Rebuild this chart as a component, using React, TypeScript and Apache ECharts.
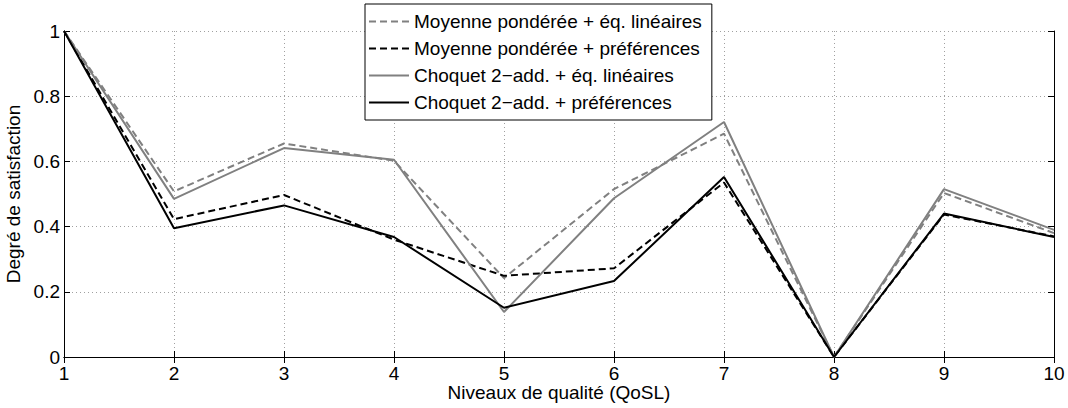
import React, { useEffect, useRef } from "react";
import * as echarts from "echarts";

const levels = [1, 2, 3, 4, 5, 6, 7, 8, 9, 10];
const mpLin = [1, 0.508, 0.655, 0.602, 0.242, 0.515, 0.685, 0, 0.503, 0.38];
const mpPref = [1, 0.423, 0.497, 0.36, 0.249, 0.272, 0.535, 0, 0.437, 0.37];
const chLin = [1, 0.485, 0.641, 0.605, 0.138, 0.487, 0.721, 0, 0.515, 0.39];
const chPref = [1, 0.395, 0.465, 0.368, 0.151, 0.233, 0.552, 0, 0.44, 0.368];
const seriesNames = [
  "Moyenne pondérée + éq. linéaires",
  "Moyenne pondérée + préférences",
  "Choquet 2\u2212add. + éq. linéaires",
  "Choquet 2\u2212add. + préférences",
];
const yTicks = [0, 0.2, 0.4, 0.6, 0.8, 1];

const FONT = "Liberation Sans, Arial, sans-serif";
const FS = 19;

export default function App() {
  const ref = useRef<HTMLDivElement>(null);
  useEffect(() => {
    if (!ref.current) return;
    const chart = echarts.init(ref.current, undefined, { renderer: "svg" });
    const pairs = (vals: number[]) => levels.map((x, i) => [x, vals[i]]);
    const gray = "#808080";
    const dash = [7, 4];
    const mk = (name: string, vals: number[], color: string, type: any) => ({
      name,
      type: "line",
      data: pairs(vals),
      symbol: "none",
      lineStyle: { color, width: 2, type },
      itemStyle: { color },
      z: 3,
    });
    const commonAxisLine = { show: true, lineStyle: { color: "#000", width: 1 } };
    const tick = { show: true, inside: true, length: 6, lineStyle: { color: "#000" } };
    const split = { show: true, lineStyle: { color: "#a0a0a0", type: [1, 3], width: 1 } };
    chart.setOption({
      animation: false,
      backgroundColor: "#fff",
      textStyle: { fontFamily: FONT },
      grid: {
        left: 64,
        right: 14,
        top: 31,
        bottom: 51,
        containLabel: false,
        outerBoundsMode: "none",
      },
      xAxis: [
        {
          type: "value",
          min: 1,
          max: 10,
          interval: 1,
          name: "Niveaux de qualité (QoSL)",
          nameLocation: "middle",
          nameGap: 26,
          nameMoveOverlap: false,
          nameTextStyle: { fontSize: FS, color: "#000", fontFamily: FONT },
          axisLine: commonAxisLine,
          axisTick: tick,
          axisLabel: { fontSize: FS, color: "#000", margin: 7, fontFamily: FONT },
          splitLine: split,
        },
        {
          type: "value",
          position: "top",
          min: 1,
          max: 10,
          interval: 1,
          axisLine: commonAxisLine,
          axisTick: tick,
          axisLabel: { show: false },
          splitLine: { show: false },
        },
      ],
      yAxis: [
        {
          type: "value",
          min: 0,
          max: 1,
          interval: 0.2,
          name: "Degré de satisfaction",
          nameLocation: "middle",
          nameGap: 41,
          nameMoveOverlap: false,
          nameTextStyle: { fontSize: FS, color: "#000", fontFamily: FONT },
          axisLine: commonAxisLine,
          axisTick: tick,
          axisLabel: {
            fontSize: FS,
            color: "#000",
            margin: 4,
            padding: [6, 0, 0, 0],
            fontFamily: FONT,
            formatter: (v: number) => {
              const t = yTicks.find((k) => Math.abs(k - v) < 1e-9);
              return t === undefined ? "" : String(t);
            },
          },
          splitLine: split,
        },
        {
          type: "value",
          position: "right",
          min: 0,
          max: 1,
          interval: 0.2,
          axisLine: commonAxisLine,
          axisTick: tick,
          axisLabel: { show: false },
          splitLine: { show: false },
        },
      ],
      legend: {
        orient: "vertical",
        left: 365,
        top: 4,
        padding: [8, 10, 8, 3],
        itemGap: 8,
        itemWidth: 40,
        itemHeight: 14,
        itemTextGap: 2,
        backgroundColor: "#fff",
        borderColor: "#000",
        borderWidth: 1,
        borderRadius: 0,
        itemStyle: { opacity: 0 },
        textStyle: { fontSize: FS, color: "#000", fontFamily: FONT, lineHeight: 19 },
        data: seriesNames,
      },
      series: [
        mk(seriesNames[0], mpLin, gray, dash),
        mk(seriesNames[1], mpPref, "#000", dash),
        mk(seriesNames[2], chLin, gray, "solid"),
        mk(seriesNames[3], chPref, "#000", "solid"),
      ],
    });
    return () => chart.dispose();
  }, []);
  return (
    <div
      ref={ref}
      style={{ position: "absolute", left: 0, top: 0, width: 1068, height: 408 }}
    />
  );
}
